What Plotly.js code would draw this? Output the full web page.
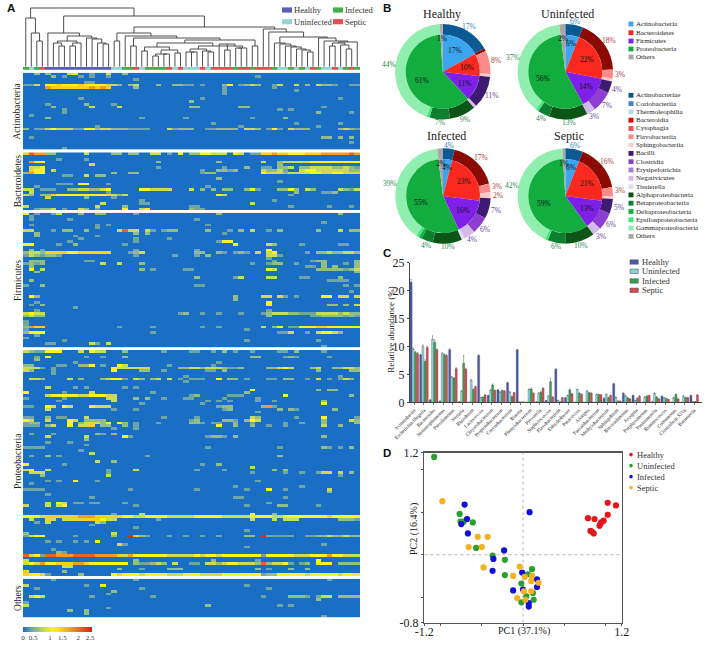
<!DOCTYPE html>
<html><head><meta charset="utf-8">
<script src="https://cdn.plot.ly/plotly-3.0.1.min.js"></script>
<style>html,body{margin:0;padding:0;background:#fff}#c{width:708px;height:646px}</style></head>
<body><div id="c"></div>
<script>
// ---------- Panel A data ----------
const sampleGroups = "IUIS"+"HHHHHHHHHHHH"+"UUIISU"+"IIIISUSUUUSU"+"SSSSISSISSSI"+"UUIUIUSIUUSUISI";
const levelValues = [0,0.3,0.5,0.75,1.05,1.35,1.7,2.05,2.4];
// [row, first column, level per column] ; level 0 = no abundance
const actinoCells = [
[0,2,"2"],[0,4,"2"],[0,8,"34"],[0,12,"1"],[0,15,"3"],[0,18,"2"],
[1,5,"2"],[1,7,"1"],[1,10,"1"],[1,12,"1"],[1,15,"1"],[1,42,"1"],
[2,20,"1"],[3,11,"11"],
[4,0,"11"],[4,2,"3"],[4,4,"445444544443"],[4,16,"32"],[4,19,"23"],[4,24,"2"],[4,27,"2211"],[4,32,"1"],[4,36,"24"],[4,39,"1232"],[4,45,"13"],[4,49,"3"],[4,51,"2"],[4,53,"3221"],[4,59,"11"],
[5,4,"655555556565"],[5,20,"2"],[5,36,"1"],[5,45,"1"],
[6,36,"1"],[6,49,"1"],[7,36,"1"],
[9,10,"1"],[9,32,"1"],[9,57,"1"],[10,30,"2"],
[11,4,"1"],[11,11,"2"],[11,16,"1"],
[12,5,"2"],[12,12,"3"],[12,17,"3"],[12,30,"22"],[12,39,"22"],[12,54,"1"],
[13,7,"1"],[13,46,"1"],[13,48,"1"],[14,7,"1"],[14,53,"2"],[14,59,"1"],
[15,1,"1"],[16,4,"2"],[16,21,"1"],[16,29,"1"],[16,41,"1"],[16,47,"2"],
[18,34,"1"],[18,49,"1"],[18,57,"1"],[19,13,"1"],[19,39,"1"],[19,53,"1"],
[20,0,"2"],[20,2,"11"],[20,4,"34333"],[20,9,"11"],[20,11,"4423"],[20,15,"32221111"],[20,26,"31222"],[20,33,"112222"],[20,40,"332"],[20,44,"141"],[20,48,"3222"],[20,57,"2321"],
[23,1,"1"],[23,54,"22"],[23,57,"2"],[23,59,"2"],[25,59,"1"],[27,7,"1"]
];
const bacteroCells = [
[0,0,"5766"],[0,4,"22"],[0,11,"3"],[0,16,"22"],[0,19,"22"],[0,23,"33"],[0,26,"1"],[0,28,"4"],[0,30,"22"],[0,32,"443"],[0,35,"33"],[0,38,"43"],[0,41,"11"],[0,43,"556554445556666676"],
[2,6,"1"],[2,11,"1"],
[3,1,"644"],[3,24,"2"],[3,35,"2"],[3,43,"3"],[3,46,"233333444444444443"],
[4,12,"3"],[4,46,"2"],
[5,1,"334"],[5,24,"1"],[5,36,"1"],[5,40,"2"],[5,43,"11"],[5,46,"223"],[5,50,"22333322321"],
[6,1,"544"],[6,5,"3"],[6,32,"1"],[6,35,"2212"],[6,43,"3223"],[6,47,"1"],[6,50,"34433333322"],
[7,0,"2644"],[7,16,"2"],[7,19,"22"],[7,32,"122"],[7,43,"4333233"],[7,50,"33443344333"],
[8,7,"11"],[8,11,"3"],[8,13,"22"],[9,35,"2"],[10,46,"1"],
[11,6,"111"],[11,10,"44"],[11,15,"1"],[12,2,"1"],[12,33,"1"],
[13,0,"33"],[13,3,"111"],[13,8,"2233223"],[13,15,"4"],[13,21,"443333"],[13,30,"3"],[13,32,"2"],[13,34,"2"],[13,36,"22"],[13,40,"24"],[13,42,"1"],[13,46,"2242"],[13,51,"32"],[13,57,"3213"],
[14,1,"3"],[14,15,"1"],[14,49,"2"],[14,54,"112"],
[15,0,"32"],[15,3,"22"],[15,5,"54444444445"],[15,16,"323"],[15,35,"43"],[15,48,"1"],
[16,4,"5"],[16,11,"2"],[16,16,"1"],[17,21,"1"],[17,45,"1"],
[18,14,"3"],[18,21,"11"],[18,41,"3"],
[19,0,"3"],[19,13,"3"],[19,18,"2"],[19,30,"11"],[19,48,"1"],[19,55,"1"],[19,59,"1"],
[20,2,"1223"],[20,7,"1"],[20,10,"32"],[20,13,"1"],[20,18,"4"],[20,21,"34"],[20,30,"211"]
];
const firmiCells = [
[0,0,"4"],[0,2,"1"],[0,5,"13"],[0,10,"2"],[0,13,"22"],[0,20,"1"],[0,35,"2"],[0,57,"2"],
[1,1,"1"],[2,1,"1"],[2,8,"1"],[2,31,"1"],[3,54,"1"],
[4,1,"1"],[4,13,"1"],[4,15,"1"],[4,33,"1"],[5,13,"1"],
[6,0,"33"],[6,5,"1"],[6,7,"22"],[6,11,"2"],[6,17,"373"],[6,20,"3"],[6,22,"31"],[6,25,"122"],[6,33,"2"],[6,37,"1"],[6,39,"2"],[6,41,"3"],[6,44,"1"],[6,46,"2"],[6,53,"2"],[6,57,"3"],[6,59,"22"],
[7,2,"2"],[7,20,"2"],[7,22,"2"],[7,36,"1"],[8,2,"2"],[8,9,"1"],[8,13,"1"],[9,10,"1"],[9,20,"1"],[9,26,"1"],
[10,8,"1"],[10,20,"1"],[10,35,"144"],
[11,0,"44"],[11,6,"1"],[11,9,"2"],[11,18,"1"],[11,38,"4"],[11,44,"32"],[11,50,"1"],[11,57,"11"],
[13,1,"2"],[13,3,"1"],[13,20,"1"],[13,31,"1"],[13,44,"4"],
[14,0,"2332"],[14,4,"555544555555"],[14,19,"123"],[14,31,"22"],[14,35,"21"],[14,38,"121"],[14,42,"3"],[14,44,"34"],[14,51,"1"],[14,53,"22322332"],
[15,0,"1321"],[15,4,"221"],[15,20,"1"],[15,27,"1"],[15,31,"1"],[15,33,"2"],[15,44,"331"],
[16,44,"1"],[17,1,"222"],[17,11,"11"],[17,45,"1"],[17,52,"122"],[17,60,"2"],
[18,0,"1212"],[18,14,"3"],[18,17,"3"],[18,21,"2"],[18,41,"1"],[18,44,"122"],[18,49,"1"],[18,54,"2"],[18,58,"1"],[18,60,"2"],
[19,1,"2"],[19,51,"11"],[19,54,"2"],[19,56,"2"],[19,60,"2"],
[20,1,"4"],[20,3,"3"],[20,21,"2"],[20,23,"1"],[20,29,"11"],[20,44,"43"],[20,53,"22222123"],
[21,2,"2"],[21,60,"2"],
[23,31,"2"],[23,38,"13"],[23,44,"33"],[23,50,"11"],[23,57,"2"],
[24,1,"2"],[24,55,"1111"],
[26,0,"1"],[26,3,"2"],[26,31,"11"],[26,58,"1"],[26,60,"1"],[28,59,"1"],
[30,1,"42"],[30,38,"2"],[30,43,"33"],[30,46,"31"],[30,49,"1"],[30,54,"44"],[30,57,"33"],[30,60,"3"],
[31,38,"2"],[32,2,"1"],[32,44,"4"],
[33,1,"1"],[33,3,"2"],[33,44,"4"],[33,55,"22"],[33,58,"2"],[33,60,"3"],
[34,9,"1"],[35,2,"1"],[35,44,"1"],
[36,0,"3433"],[36,28,"12"],[36,32,"1"],[36,35,"1"],[36,39,"1"],[36,43,"123332211133332322"],
[37,0,"2322"],[37,44,"2"],[37,52,"112222121"],
[39,0,"1"],[40,0,"1"],
[41,0,"2655"],[41,17,"1"],[41,23,"1"],[41,32,"1"],[41,35,"1"],[41,43,"3"],[41,45,"24"],[41,48,"11"],[41,50,"44455444444"],
[42,0,"1"],[42,40,"1"],
[43,0,"2444"],[43,23,"1"],[43,46,"113"],[43,51,"1"],[43,53,"34432"],
[44,2,"1"],[45,0,"1"],[46,7,"1"],[46,40,"1"],[46,53,"1"],
[47,4,"11"],[47,12,"31"],[47,15,"3"],[48,54,"1"]
];
const proteoCells = [
[0,0,"3211"],[0,4,"444"],[0,10,"3"],[0,12,"433"],[0,18,"2"],[0,25,"1"],[0,30,"11"],[0,34,"1"],[0,36,"2"],[0,38,"1"],[0,41,"1"],[0,46,"11"],[0,49,"2"],[0,54,"1"],
[2,2,"1"],[2,4,"4"],[2,11,"1"],[2,14,"1"],[2,18,"2"],[2,41,"22"],[2,47,"121"],[2,55,"1"],
[3,2,"2"],[4,9,"1"],[4,35,"1"],
[5,0,"22"],[5,6,"11"],[5,10,"224"],[5,14,"1"],[5,17,"43"],[5,26,"1"],[5,34,"1"],
[6,0,"3331"],[6,5,"1"],[6,16,"43"],[6,18,"33333"],[6,28,"223323332"],[6,37,"112"],[6,44,"22343"],[6,52,"23"],[6,56,"22332"],
[7,0,"32"],[7,5,"1"],[7,16,"4"],[7,21,"22"],[7,25,"1"],[7,33,"11"],[7,36,"2"],[7,53,"2"],[7,59,"22"],
[8,5,"1"],[9,29,"1"],[9,57,"1"],
[10,1,"332"],[10,8,"3"],[10,10,"2"],[10,14,"2344"],[10,18,"1"],[10,20,"32"],[10,23,"23"],[10,26,"3"],[10,28,"1"],[10,30,"111"],[10,35,"4"],[10,37,"22"],[10,40,"1"],[10,44,"11"],[10,47,"22"],[10,51,"1"],[10,53,"5"],[10,55,"1"],[10,57,"132"],
[11,29,"1"],
[13,4,"3"],[13,9,"1"],[13,11,"1"],[13,18,"1"],[13,20,"1"],
[14,41,"4"],[14,53,"2"],[14,55,"22"],
[15,0,"4"],[15,7,"1"],[15,12,"3"],[15,23,"1"],[15,40,"2"],
[16,4,"344444334443"],[16,16,"3"],[16,30,"12"],[16,37,"111"],[16,47,"4"],[16,59,"2"],
[17,0,"1"],[17,7,"1"],[17,15,"33"],[17,20,"2"],[17,22,"2"],[17,25,"1"],[17,29,"11"],[17,36,"1"],[17,42,"1"],
[18,6,"1"],[18,16,"3"],[18,33,"1"],[18,35,"1"],[18,37,"1"],[18,42,"1"],[18,45,"1"],[18,54,"2"],
[19,21,"1"],[19,32,"1"],[19,54,"4"],
[20,0,"11"],[20,4,"43"],[20,7,"43"],[20,12,"4333"],[20,35,"1"],[20,36,"22"],[20,43,"26"],[20,45,"1"],
[21,4,"3"],[21,16,"1"],[21,20,"1"],[21,36,"12"],[21,46,"2"],[21,48,"21"],[21,56,"2"],
[22,42,"1"],
[24,0,"11"],[24,4,"2"],[24,6,"11"],[24,11,"3"],[24,25,"1"],[24,31,"1"],[24,41,"32"],[24,49,"1"],[24,54,"4"],[24,60,"1"],
[25,0,"43"],[25,4,"3"],[25,8,"43"],[25,11,"2222"],[25,30,"12"],[25,36,"221"],[25,40,"243"],[25,54,"2"],[25,59,"32"],
[26,0,"122"],[26,8,"4"],[26,10,"235324"],[26,17,"42"],[26,20,"1"],[26,24,"1"],[26,30,"221"],[26,34,"11"],[26,38,"2"],[26,41,"1"],[26,47,"1"],[26,50,"1"],[26,54,"2"],[26,60,"2"],
[27,0,"111"],[27,4,"23"],[27,8,"4"],[27,10,"335"],[27,14,"22"],[27,18,"2"],[27,20,"1"],[27,35,"4"],[27,38,"2"],[27,41,"2"],[27,44,"1"],[27,47,"1"],[27,54,"3"],[27,57,"2"],
[28,16,"1"],[28,20,"1"],
[30,1,"1"],[30,5,"1"],[30,13,"21"],[30,16,"2"],
[31,4,"3"],[31,11,"3"],[31,18,"41"],[31,33,"1221"],[31,38,"2"],[31,54,"2"],
[32,11,"2"],[33,4,"1"],[33,8,"1"],[34,11,"1"],
[35,0,"1111"],[35,33,"1"],[35,46,"1"],[35,54,"21"],[35,57,"1"],[35,59,"2"],
[36,10,"1"],[37,12,"3"],[38,1,"1"],[38,4,"2"],[38,6,"1"],[38,22,"1"],[38,46,"2"],
[40,13,"3"],[40,16,"2"],[41,0,"4"],[41,7,"1"],[41,32,"1"],[41,35,"2"],[42,41,"3"],
[43,0,"34"],[43,4,"3"],[43,15,"1"],[43,20,"3"],[43,31,"1"],[43,36,"1"],[43,45,"2"],[43,47,"2"],
[44,1,"333"],[44,15,"1"],[44,41,"1"],[44,47,"1"],[44,50,"1"],[44,53,"133"],[44,57,"3"],[44,59,"2"],
[45,3,"2"],[45,15,"3"],[45,57,"1"],
[47,4,"1"],[47,6,"1"],[47,9,"4"],[47,13,"1"],[47,42,"1"],
[48,1,"1"],[49,38,"1"],[49,50,"1"],
[50,0,"1111"],[50,19,"1"],[50,31,"1"],[50,40,"1"],[50,44,"4"],[50,47,"1"],[50,55,"3"],
[51,55,"2"],[52,4,"1"],[53,12,"1"],[53,38,"11"],[53,47,"1"],
[55,4,"3"],[55,6,"43"],[55,9,"11"],[55,12,"11"],[55,18,"1"],[55,44,"1"],
[56,0,"3"],[56,4,"3"],[56,6,"34"],[56,20,"1"],[56,40,"1"],[56,46,"22"],[56,53,"1"],
[59,16,"1"],[59,21,"3"],[59,41,"4"],[59,45,"2"],
[60,0,"4443555555666555554433444433333444443333344443344444444544444"],
[61,1,"3"],[61,4,"53"],[61,7,"3"],[61,8,"353555433"],[61,24,"1"],[61,41,"3"],[61,45,"3"],[61,47,"333"],[61,57,"2221"],
[62,2,"1"],[62,4,"3"],[62,13,"32"],[63,12,"1"],[64,20,"1"],[65,40,"1"],
[66,0,"2"],[66,16,"3"],
[67,0,"1344"],[67,9,"1"],[67,16,"2"],[67,19,"8521"],[67,26,"1"],[67,29,"1"],[67,32,"1"],[67,35,"1"],[67,40,"22"],[67,43,"811111"],[67,51,"1122322322"],
[69,4,"1"],[69,6,"1"],[69,9,"1"],[69,11,"1"],[69,13,"4"],
[70,17,"31"],[70,54,"1"],[71,40,"1"],[72,5,"1"],[73,6,"21"],
[74,0,"73417766677776666536"+"44444433333434434444444"+"1"+"44444333444644333"],
[76,0,"3"],[76,20,"2"],[76,34,"2"],[76,42,"1"],[76,53,"4"],
[77,0,"34364455566544444"+"44"+"0"+"2"+"11"+"232"+"0"+"3"+"00"+"11"+"0"+"332"+"3443332"+"7"+"233"+"4"+"1"+"0"+"1"+"2"+"0"+"444"+"0"+"2222"],
[78,7,"33"],
[79,17,"2"],[79,21,"1"],[79,26,"222"],[79,42,"2"],[79,44,"1"],[79,48,"2"],[79,51,"2"],
[80,0,"5"],[80,7,"2"],
[81,0,"5443"+"1"],[81,10,"2"],[81,16,"454443444433344433334444444122444443444443444"]
];
const othersCells = [
[0,5,"1"],[0,20,"1"],[0,55,"1"],
[2,0,"3"],[2,11,"1"],[2,14,"4"],[2,40,"1"],
[3,2,"1"],[3,21,"1"],[3,44,"1"],[4,16,"2"],[5,15,"1"],
[6,1,"343"],[6,12,"1"],[6,23,"1"],[6,43,"1"],[6,48,"2221"],[6,53,"133"],[6,57,"2222"],
[7,53,"2"],[8,0,"1"],[9,0,"3"],[9,33,"2"],[9,46,"1"],[9,48,"1"],[10,15,"1"],
[11,8,"2"],[11,11,"2"],[12,11,"2"],[13,54,"1"]
];
const phylumNames = ["Actinobacteria","Bacteroidetes","Firmicutes","Proteobacteria","Others"];
const phylumRows = [28,21,49,82,14];
// dendrogram: [merge height (px from top of panel), left, right]; a leaf is a column index
const dendroTree = [8,
 [18,0,[33,1,[41,2,3]]],
 [16,
  [33,4,[36,
     [41,[43,5,[46,6,7]],[43,[46,8,9],10]],
     [38,11,[39,12,[43,13,[44,14,15]]]]]],
  [27,
   [33,[41,16,17],[36,18,[38,[46,19,20],[40,
       [43,[47,[51,21,22],[50,[54,[56,23,24],[54,25,26]],[53,27,28]]],
           [46,[49,[52,29,[52,30,31]],[51,32,[52,33,34]]],[44,35,[46,[50,36,37],[48,[48,38,39],40]]]]],
       [46,41,42]]]]],
   [29,43,[32,44,[37,
       [43,45,[44,46,[46,47,[47,48,[49,49,[50,50,[52,51,52]]]]]]],
       [38,53,[41,54,[42,[43,[46,55,56],[45,57,[49,58,59]]],60]]]]]]
  ]
 ]
];
const colorbarTickText = ["0","0.5","1","1.5","2","2.5"];
const colorbarTickVals = [0,0.37,0.98,1.43,2.0,2.43];
const colorbarValues = [0,0.125,0.25,0.375,0.5,0.625,0.75,0.875,1,1.125,1.25,1.375,1.5,1.625,1.75,1.875,2,2.125,2.25,2.375,2.5];

// ---------- Panel B data ----------
const classNames = ["Actinobacteriae","Coriobacteriia","Thermoleophilia","Bacteroidia","Cytophagia","Flavobacteriia","Sphingobacteriia","Bacilli","Clostridia","Erysipelotrichia","Negativicutes","Tissierella","Alphaproteobacteria","Betaproteobacteria","Deltaproteobacteria","Epsilonproteobacteria","Gammaproteobacteria","Others"];
const healthyClass    = [17,0,0,1,0,8,1,11,0,0,1,0,9,7,0,1,44,1];
const uninfectedClass = [6,0,0,18,0,3,1,4,7,0,3,0,13,4,0,1,37,2];
const infectedClass   = [4,0,0,17,0,3,2,7,6,0,4,1,10,4,1,1,39,2];
const septicClass     = [6,0,0,16,0,3,1,5,6,0,3,0,10,6,0,1,42,1];
const healthyPhylum    = [17,10,11,61,1];
const uninfectedPhylum = [6,22,14,56,2];
const infectedPhylum   = [4,23,16,55,2];
const septicPhylum     = [6,21,13,59,1];
const pieTitles = ["Healthy","Uninfected","Infected","Septic"];

// ---------- Panel C data ----------
const genera = ["Acinetobacter","Escherichia/Shigella","Bacteroides","Stenotrophomonas","Pseudomonas","Serratia","Rhizobium","Lactococcus","Chryseobacterium","Propionibacterium","Corynebacterium","Blautia","Phenylobacterium","Prevotella","Staphylococcus","Flavobacterium","Enhydrobacter","Paracoccus","Alistipes","Faecalibacterium","Methylobacterium","Sphingobium","Brevundimonas","Azospira","Porphyromonas","Parasutterella","Ruminococcus","Comamonas","Clostridium XlVa","Barnesiella"];
const healthyBar    = [21.5,8.5,0.4,0.2,9.4,0.1,0,8.4,1.2,2.2,3.5,9.4,0,0.1,0.3,5.9,0.8,0,0,0,0.7,3.3,1.6,1.2,0,0.1,1.1,0,0,1.2];
const uninfectedBar = [9.5,10,11.3,8.7,4.5,2.0,3.9,0.8,2.1,1.8,1.8,0.05,2.3,1.6,1.1,0.3,1.2,2.3,2.0,1.4,1.4,0.9,1.1,0.3,0.9,1.6,0.8,0.8,1.1,0.1];
const infectedBar   = [8.9,7.3,10.7,8.5,4.3,7.0,2.3,0.9,3.1,2.1,1.0,0.05,2.4,1.8,3.7,0.1,2.2,1.6,1.7,1.4,0.8,0.2,0.8,0.7,1.1,0.9,0.7,1.4,0.8,0.1];
const septicBar     = [8.7,9.8,9.4,8.4,6.0,5.9,2.8,1.3,2.1,2.0,1.7,0.05,1.6,2.5,0.9,0.8,1.5,1.4,1.6,1.3,1.2,0.2,0.6,1.1,1.2,0.6,0.5,0.6,0.8,1.3];
const healthyErr    = [0.5,0.1,0.1,0.05,0.2,0,0,0.1,0.05,0.1,0.1,0.1,0,0,0.05,0.1,0.05,0,0,0,0.1,0.1,0.1,0.1,0,0,0.05,0,0,0.1];
const uninfectedErr = [0.2,0.3,0.6,0.2,0.1,0.1,0.2,0.1,0.2,0.1,0.1,0,0.1,0.1,0.1,0.1,0.1,0.1,0.1,0.1,0.1,0.05,0.1,0.1,0.1,0.1,0.05,0.1,0.1,0.05];
const infectedErr   = [0.2,0.3,0.5,0.2,0.1,1.4,0.1,0.1,0.2,0.1,0.1,0,0.2,0.1,0.6,0,0.2,0.1,0.1,0.1,0.1,0.05,0.1,0.1,0.1,0.1,0.05,0.1,0.1,0.05];
const septicErr     = [0.2,0.3,0.2,0.1,0.2,0.2,0.1,0.1,0.1,0.1,0.1,0,0.1,0.1,0.1,0.1,0.1,0.1,0.1,0.1,0.1,0.05,0.05,0.1,0.1,0.05,0.05,0.05,0.05,0.1];

// ---------- Panel D data ----------
const healthyPCx = [1.03,1.13,1.03,0.79,0.87,0.98,0.95,0.94,0.93,0.82,0.84,0.86];
const healthyPCy = [0.61,0.58,0.47,0.43,0.42,0.40,0.38,0.36,0.34,0.28,0.27,0.25];
const uninfectedPCx = [-1.08,-0.77,-0.76,-0.72,-0.61,-0.57,-0.37,-0.22,-0.22,0.11,0.06,-0.02,0.12,0.04,0.13,-0.02];
const uninfectedPCy = [1.15,0.48,0.39,0.39,0.38,0.08,-0.01,-0.06,-0.24,-0.17,-0.23,-0.34,-0.45,-0.49,-0.53,-0.56];
const infectedPCx = [-0.71,-0.68,-0.75,-0.67,-0.23,-0.36,-0.37,0.08,-0.01,0.17,0.17,-0.12,0.0,0.07,0.07];
const infectedPCy = [0.59,0.42,0.36,0.25,0.05,-0.05,-0.19,0.50,-0.21,-0.29,-0.38,-0.42,-0.41,-0.57,-0.61];
const septicPCx = [-0.98,-0.55,-0.43,-0.66,-0.50,-0.48,-0.04,-0.12,0.02,0.11,0.10,0.19,0.01,0.10,-0.07,0.03];
const septicPCy = [0.63,0.21,0.21,0.09,0.09,-0.15,-0.14,-0.25,-0.26,-0.25,-0.31,-0.33,-0.43,-0.43,-0.51,-0.53];

// ---------- helpers ----------
const W=708,H=646;
const dx=(a,b)=>[a/W,b/W];
const dy=(t,b)=>[1-b/H,1-t/H];
const serif="Liberation Serif, Times New Roman, serif";
const sans="Liberation Sans, Arial, sans-serif";
const annotations=[],shapes=[],traces=[];
function note(px,py,text,size,color,opts){annotations.push(Object.assign({xref:"paper",yref:"paper",x:px/W,y:1-py/H,text:text,showarrow:false,xanchor:"center",yanchor:"middle",borderpad:0,
  font:{family:serif,size:size,color:color||"#222"}},opts||{}));}
function swatch(x0,x1,y0,y1,fill,line){shapes.push({type:"rect",xref:"paper",yref:"paper",x0:x0/W,x1:x1/W,y0:1-y1/H,y1:1-y0/H,fillcolor:fill,line:{width:line?0.5:0,color:line||fill}});}
function matrix(rows,cells){const m=[];for(let r=0;r<rows;r++)m.push(new Array(61).fill(0));
  cells.forEach(c=>{[...c[2]].forEach((ch,i)=>{if(c[0]<rows&&c[1]+i<61)m[c[0]][c[1]+i]=levelValues[+ch];});});return m;}

// ---------- Panel A ----------
const heatScale=[[0,"#1a6ec4"],[0.12,"#6ea5a5"],[0.2,"#92bd84"],[0.3,"#c9dc55"],[0.42,"#fbf31c"],[0.54,"#fccf1e"],[0.68,"#f59a24"],[0.82,"#e8602a"],[1,"#ee1111"]];
const groupCells=[actinoCells,bacteroCells,firmiCells,proteoCells,othersCells];
const groupPx=[[72.7,149.4],[152.3,210],[212.7,347.3],[350,576],[578.7,617.3]];
const layout={width:W,height:H,margin:{l:0,r:0,t:0,b:0},paper_bgcolor:"#fff",plot_bgcolor:"rgba(0,0,0,0)",showlegend:false,barmode:"group",bargap:0.1,bargroupgap:0,hovermode:false};
const hid={visible:false,fixedrange:true};
layout.xaxis=Object.assign({},hid,{domain:dx(23,360),range:[-0.5,60.5],anchor:"y"});
groupCells.forEach((cells,i)=>{
  const n=i===0?"":String(i+1);
  layout["yaxis"+n]=Object.assign({},hid,{domain:dy(groupPx[i][0],groupPx[i][1]),range:[phylumRows[i]-0.5,-0.5],anchor:"x"});
  traces.push({type:"heatmap",z:matrix(phylumRows[i],cells),xaxis:"x",yaxis:"y"+n,zmin:0,zmax:2.5,colorscale:heatScale,showscale:false,hoverinfo:"skip",zsmooth:false});
});
// sample strip
layout.yaxis6=Object.assign({},hid,{domain:dy(66.8,70.2),range:[-0.5,0.5],anchor:"x"});
const groupKeys="HUIS";
traces.push({type:"heatmap",z:[[...sampleGroups].map(c=>groupKeys.indexOf(c))],xaxis:"x",yaxis:"y6",zmin:0,zmax:3,showscale:false,hoverinfo:"skip",
 colorscale:[[0,"#5a5fae"],[0.25,"#5a5fae"],[0.25,"#93d4d4"],[0.5,"#93d4d4"],[0.5,"#3fb04a"],[0.75,"#3fb04a"],[0.75,"#ee4a52"],[1,"#ee4a52"]]});
// dendrogram
layout.yaxis7=Object.assign({},hid,{domain:dy(0,66.8),range:[66.8,0],anchor:"x"});
const dX=[],dY=[];
(function walk(n){ if(typeof n==="number")return [n,66.8];
  const a=walk(n[1]),b=walk(n[2]); dX.push(a[0],a[0],b[0],b[0],null); dY.push(a[1],n[0],n[0],b[1],null); return [(a[0]+b[0])/2,n[0]];})(dendroTree);
traces.push({type:"scatter",mode:"lines",x:dX,y:dY,xaxis:"x",yaxis:"y7",line:{color:"#3a3a3a",width:0.9},hoverinfo:"skip"});
// colour key
layout.xaxis2={domain:dx(23,92),range:[0,2.5],anchor:"y8",tickvals:colorbarTickVals,ticktext:colorbarTickText,showline:false,ticks:"",ticklen:0,showgrid:false,zeroline:false,fixedrange:true,tickfont:{family:serif,size:7,color:"#333"}};
layout.yaxis8=Object.assign({},hid,{domain:dy(627,632),range:[-0.5,0.5],anchor:"x2"});
traces.push({type:"heatmap",z:[colorbarValues],x:colorbarValues,xaxis:"x2",yaxis:"y8",zmin:0,zmax:2.5,colorscale:heatScale,showscale:false,hoverinfo:"skip",zsmooth:"best"});
// phylum labels
[[111.6,0],[181.3,1],[281,2],[461,3],[598,4]].forEach(p=>note(17,p[0],phylumNames[p[1]],9.6,"#222",{textangle:-90}));
note(11,8,"<b>A</b>",11.5,"#111",{font:{family:sans,size:11.5,color:"#111"}});
[["Healthy",282,292,293,10,"#5a5fae"],["Infected",333,343,344,10,"#3fb04a"],["Uninfected",282,292,293,21.7,"#93d4d4"],["Septic",333,343,344,21.7,"#ee4a52"]].forEach(s=>{
  swatch(s[1],s[2],s[4]-2.6,s[4]+2.6,s[5]); note(s[3],s[4],s[0],8.5,"#333",{xanchor:"left"});});

// ---------- Panel B ----------
const classColors=["#0c5a94","#3e82dc","#bcd6f3","#8b0a02","#f4504f","#fb8a88","#fbcdca","#3e1a72","#8d3dd0","#a878da","#d3b8ea","#e3dcf0","#0c5517","#0d8030","#14ae40","#3ee878","#90eeae","#a8a8a8"];
const classLegendColors=classColors.slice(); classLegendColors[3]="#e8000b";
const phylumColors=["#3ba5ee","#f9291f","#7f20e8","#12ac3f","#a6a6a6"];
const ringTextColors=["#3a7fb8","#3a7fb8","#3a7fb8","#a83a3a","#a83a3a","#a83a3a","#a83a3a","#6a3d9a","#6a3d9a","#6a3d9a","#6a3d9a","#6a3d9a","#2f8a4e","#2f8a4e","#2f8a4e","#2f8a4e","#2f8a4e","#666"];
const pieCenters=[[442.7,71.7],[565.3,71.7],[443,196],[565.3,196]];
const titlePos=[[442,14],[567,14],[446,135.7],[569,135.7]];
const ringR=47.7,innerR=37;
[[healthyClass,healthyPhylum],[uninfectedClass,uninfectedPhylum],[infectedClass,infectedPhylum],[septicClass,septicPhylum]].forEach((d,i)=>{
  const c=pieCenters[i];
  traces.push({type:"pie",labels:classNames,values:d[0],sort:false,direction:"clockwise",rotation:0,hole:innerR/ringR,textinfo:"none",hoverinfo:"skip",
    domain:{x:dx(c[0]-ringR,c[0]+ringR),y:dy(c[1]-ringR,c[1]+ringR)},marker:{colors:classColors,line:{width:0}}});
  traces.push({type:"pie",labels:phylumNames,values:d[1],sort:false,direction:"clockwise",rotation:0,textinfo:"none",hoverinfo:"skip",
    domain:{x:dx(c[0]-innerR,c[0]+innerR),y:dy(c[1]-innerR,c[1]+innerR)},marker:{colors:phylumColors,line:{width:0}}});
  note(titlePos[i][0],titlePos[i][1],pieTitles[i],12,"#222");
  // labels at the middle of each slice
  const place=(vals,r,test,col)=>{const tot=vals.reduce((a,b)=>a+b,0);let cum=0;vals.forEach((v,k)=>{
      const a=(cum+v/2)/tot*2*Math.PI;cum+=v;
      if(test(v,k)) note(c[0]+r(k,v,a)*Math.sin(a),c[1]-r(k,v,a)*Math.cos(a),v+"%",7.5,col(k));});};
  place(d[0],(k,v,a)=>ringR+3+4*Math.abs(Math.sin(a)),(v,k)=>v>=2&&k<17,k=>ringTextColors[k]);
  place(d[1],(k,v)=>k===4?33:(k===0&&v<=6?29:(k===3?23:25)),()=>true,()=>"#111");
});
note(386.7,7.5,"<b>B</b>",11.5,"#111",{font:{family:sans,size:11.5,color:"#111"}});
[24,32.7,41,49,57].forEach((y,i)=>{swatch(628.5,633.5,y-2.4,y+2.4,phylumColors[i]);note(635,y,phylumNames[i],7,"#222",{xanchor:"left"});});
classNames.forEach((n,i)=>{const y=95.3+8.3*i;swatch(628.5,633.5,y-2.4,y+2.4,classLegendColors[i]);note(635,y,n,7,"#222",{xanchor:"left"});});

// ---------- Panel C ----------
layout.xaxis3={domain:dx(410,701.7),range:[-0.45,29.78],type:"category",anchor:"y9",showline:true,linecolor:"#444",linewidth:1,ticks:"outside",ticklen:2,tickcolor:"#444",tickwidth:0.7,tickangle:-45,tickmode:"array",tickvals:genera,ticktext:genera,tickfont:{family:serif,size:5,color:"#222"},showgrid:false,zeroline:false,fixedrange:true};
layout.yaxis9={domain:dy(262.7,402.3),range:[0,25],anchor:"x3",showline:true,linecolor:"#444",linewidth:1,ticks:"outside",ticklen:2,tickcolor:"#444",tickvals:[0,5,10,15,20,25],tickfont:{family:serif,size:12,color:"#222"},showgrid:false,zeroline:false,fixedrange:true};
[["Healthy",healthyBar,healthyErr,"#4b5aa8"],["Uninfected",uninfectedBar,uninfectedErr,"#8dd2d4"],["Infected",infectedBar,infectedErr,"#3da04a"],["Septic",septicBar,septicErr,"#d84a50"]].forEach(s=>{
  traces.push({type:"bar",name:s[0],x:genera,y:s[1],xaxis:"x3",yaxis:"y9",marker:{color:s[3],line:{color:"#445",width:0.25}},error_y:{type:"data",array:s[2],visible:true,symmetric:false,arrayminus:s[2].map(()=>0),color:"#555",thickness:0.5,width:0.6},hoverinfo:"skip"});
});
note(390.7,330,"Relative abundance (%)",9,"#222",{textangle:-90});
note(387,252.7,"<b>C</b>",11.5,"#111",{font:{family:sans,size:11.5,color:"#111"}});
[["Healthy",262,"#4b5aa8"],["Uninfected",271.3,"#8dd2d4"],["Infected",281,"#3da04a"],["Septic",290.3,"#d84a50"]].forEach(s=>{
  swatch(630,638.3,s[1]-2.2,s[1]+2.2,s[2],"#445");note(640.5,s[1],s[0],8.5,"#333",{xanchor:"left"});});

// ---------- Panel D ----------
layout.xaxis4={domain:dx(424.3,621.7),range:[-1.2,1.2],anchor:"y10",showline:true,mirror:true,linecolor:"#555",linewidth:1.5,ticks:"outside",ticklen:2,tickcolor:"#555",tickvals:[-1.2,-1,-0.5,0,0.5,1,1.2],ticktext:["-1.2","","","","","","1.2"],ticklabelstandoff:-5,tickfont:{family:serif,size:12,color:"#222"},showgrid:false,zeroline:false,fixedrange:true};
layout.yaxis10={domain:dy(452.7,622.7),range:[-0.8,1.2],anchor:"x4",showline:true,mirror:true,linecolor:"#555",linewidth:1.5,ticks:"outside",ticklen:2,tickcolor:"#555",tickvals:[-0.8,-0.5,0,0.5,1,1.2],ticktext:["-0.8","","","","","1.2"],tickfont:{family:serif,size:12,color:"#222"},showgrid:false,zeroline:false,fixedrange:true};
shapes.push({type:"line",xref:"x4",yref:"y10",x0:0,x1:0,y0:-0.8,y1:1.2,line:{color:"#999",width:0.7,dash:"dot"},layer:"below"});
shapes.push({type:"line",xref:"x4",yref:"y10",x0:-1.2,x1:1.2,y0:0,y1:0,line:{color:"#999",width:0.7,dash:"dot"},layer:"below"});
[["Healthy",healthyPCx,healthyPCy,"#e8141c"],["Uninfected",uninfectedPCx,uninfectedPCy,"#2ca02c"],["Infected",infectedPCx,infectedPCy,"#1010d8"],["Septic",septicPCx,septicPCy,"#f5b120"]].forEach((s,i)=>{
  traces.push({type:"scatter",mode:"markers",name:s[0],x:s[1],y:s[2],xaxis:"x4",yaxis:"y10",marker:{color:s[3],size:6.2},hoverinfo:"skip"});
  const y=420+(104+33*i)/3;
  shapes.push({type:"circle",xref:"paper",yref:"paper",x0:(631-1.8)/W,x1:(631+1.8)/W,y0:1-(y+1.8)/H,y1:1-(y-1.8)/H,fillcolor:s[3],line:{width:0}});
  note(636,y,s[0],8.5,"#333",{xanchor:"left"});
});
note(524,630.7,"PC1 (37.1%)",10,"#222");
note(414,529,"PC2 (16.4%)",10,"#222",{textangle:-90});
note(387,452.7,"<b>D</b>",11.5,"#111",{font:{family:sans,size:11.5,color:"#111"}});

layout.annotations=annotations;layout.shapes=shapes;
Plotly.newPlot("c",traces,layout,{staticPlot:true,displayModeBar:false});
</script></body></html>
